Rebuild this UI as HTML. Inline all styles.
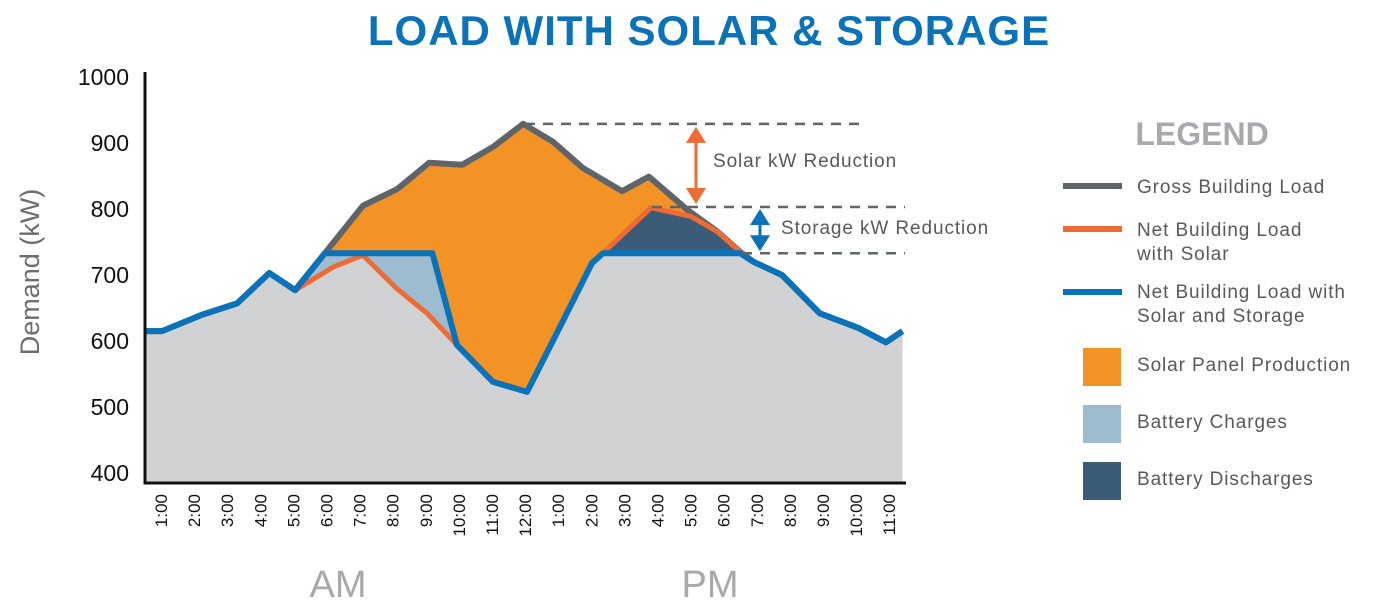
<!DOCTYPE html>
<html><head><meta charset="utf-8">
<style>
body{margin:0;background:#fff;width:1390px;height:600px;overflow:hidden;font-family:"Liberation Sans",sans-serif;}
svg text{font-family:"Liberation Sans",sans-serif;}
</style></head>
<body>
<svg id="chart" width="1390" height="600" viewBox="0 0 1390 600">
<text x="709" y="45" text-anchor="middle" font-size="42" font-weight="bold" fill="#0a72b9" letter-spacing="1">LOAD WITH SOLAR &amp; STORAGE</text>
<g id="plot"></g>
<g id="overlay"></g>
<text transform="translate(39,272) rotate(-90)" text-anchor="middle" font-size="27" fill="#6d6e71">Demand (kW)</text>
<text x="338" y="597" text-anchor="middle" font-size="38" fill="#a7a9ac">AM</text>
<text x="710" y="597" text-anchor="middle" font-size="38" fill="#a7a9ac">PM</text>
<g letter-spacing="0.9">
<text x="1202" y="145" text-anchor="middle" font-size="32" font-weight="bold" fill="#a7a9ac" letter-spacing="0">LEGEND</text>
<rect x="1063" y="183" width="59" height="6" fill="#5f6468"/>
<text x="1137" y="193" font-size="19" fill="#58595b">Gross Building Load</text>
<rect x="1063" y="226" width="59" height="6" fill="#ef6b35"/>
<text x="1137" y="236" font-size="19" fill="#58595b">Net Building Load</text>
<text x="1137" y="260" font-size="19" fill="#58595b">with Solar</text>
<rect x="1063" y="289" width="59" height="6" fill="#0a72b9"/>
<text x="1137" y="298" font-size="19" fill="#58595b">Net Building Load with</text>
<text x="1137" y="322" font-size="19" fill="#58595b">Solar and Storage</text>
<rect x="1083" y="348" width="38" height="38" fill="#f39325"/>
<text x="1137" y="371" font-size="19" fill="#58595b">Solar Panel Production</text>
<rect x="1083" y="405" width="38" height="38" fill="#9ebccf"/>
<text x="1137" y="428" font-size="19" fill="#58595b">Battery Charges</text>
<rect x="1083" y="462" width="38" height="38" fill="#3a5c78"/>
<text x="1137" y="485" font-size="19" fill="#58595b">Battery Discharges</text>
</g>
</svg>
<script>
const yTicks=[400,500,600,700,800,900,1000];
const xTickLabels=["1:00","2:00","3:00","4:00","5:00","6:00","7:00","8:00","9:00","10:00","11:00","12:00","1:00","2:00","3:00","4:00","5:00","6:00","7:00","8:00","9:00","10:00","11:00"];
const grossHours=[0.5,1.03,2.25,3.3,4.27,5.05,5.95,7.1,8.13,9.1,10.1,11.03,11.94,12.84,13.75,14.93,15.74,16.92,17.83,18.5,18.9,19.76,20.9,22.06,22.9,23.4];
const grossValues=[615,615,640,657,703,677,733,805,830,870,867,894,929,902,862,827,849,798,765,735,720,700,642,620,598,615];
const solarHours=[0.5,1.03,2.25,3.3,4.27,5.05,6.2,7.1,8.13,9.04,9.94,11.03,12.06,13.05,14.02,14.35,15.8,17.0,17.83,18.5,18.9,19.76,20.9,22.06,22.9,23.4];
const solarValues=[615,615,640,657,703,677,712,730,679,642,594,538,523,621,718,733,802,789,765,735,720,700,642,620,598,615];
const storageHours=[0.5,1.03,2.25,3.3,4.27,5.05,5.95,9.2,9.94,11.03,12.06,13.05,14.02,14.35,18.5,18.9,19.76,20.9,22.06,22.9,23.4];
const storageValues=[615,615,640,657,703,677,733,733,594,538,523,621,718,733,733,720,700,642,620,598,615];
const solarReductionTop=929, solarReductionBottom=803, storageReductionBottom=733;

const NS="http://www.w3.org/2000/svg";
const X=h=>161+(h-1)*33.1;
const Y=v=>77+(1000-v)*0.66;
const BASE=482;
const plot=document.getElementById('plot');
const ov=document.getElementById('overlay');
function mk(tag,attrs,parent){const e=document.createElementNS(NS,tag);for(const k in attrs)e.setAttribute(k,attrs[k]);parent.appendChild(e);return e;}
function interp(hs,vs,h){if(h<=hs[0])return vs[0];for(let i=1;i<hs.length;i++){if(h<=hs[i]){const t=(h-hs[i-1])/(hs[i]-hs[i-1]);return vs[i-1]+t*(vs[i]-vs[i-1]);}}return vs[vs.length-1];}
const allH=[...new Set([...grossHours,...solarHours,...storageHours])].sort((a,b)=>a-b);
function areaPath(fn){let d=`M${X(allH[0])},${BASE}`;allH.forEach(h=>{d+=`L${X(h)},${Y(fn(h))}`});d+=`L${X(allH[allH.length-1])},${BASE}Z`;return d;}
function linePath(hs,vs){return hs.map((h,i)=>(i?'L':'M')+X(h)+','+Y(vs[i])).join('');}
const g=h=>interp(grossHours,grossValues,h),s=h=>interp(solarHours,solarValues,h),st=h=>interp(storageHours,storageValues,h);

let e;
e=mk('path',{d:areaPath(g),fill:'#f39325'},plot);


e=mk('path',{d:areaPath(s),fill:'#3a5c78'},plot);


e=mk('path',{d:areaPath(st),fill:'#9ebccf'},plot);


e=mk('path',{d:areaPath(h=>Math.min(s(h),st(h))),fill:'#d1d2d4'},plot);


e=mk('path',{d:linePath(grossHours,grossValues),fill:'none',stroke:'#5f6468','stroke-width':6,'stroke-linejoin':'round'},plot);


e=mk('path',{d:linePath(solarHours,solarValues),fill:'none',stroke:'#ef6b35','stroke-width':5,'stroke-linejoin':'round'},plot);


e=mk('path',{d:linePath(storageHours,storageValues),fill:'none',stroke:'#0a72b9','stroke-width':6,'stroke-linejoin':'round'},plot);


e=mk('path',{d:`M145,72V483H906`,fill:'none',stroke:'#111','stroke-width':3},plot);


yTicks.forEach(v=>{const t=mk('text',{x:129,y:Y(v)+8,'text-anchor':'end','font-size':23,fill:'#111'},plot);t.textContent=v;

});
xTickLabels.forEach((l,i)=>{const t=mk('text',{transform:`translate(${X(i+1)+6},494) rotate(-90)`,'text-anchor':'end','font-size':17,fill:'#111'},plot);t.textContent=l;

});
function dash(y,x1,x2,name){const d=mk('line',{x1:x1,x2:x2,y1:y,y2:y,stroke:'#5f6468','stroke-width':2.5,'stroke-dasharray':'10,8'},ov);

}
dash(Y(solarReductionTop),525,862,'solar-peak-dashline');
dash(Y(solarReductionBottom),652,905,'solar-net-peak-dashline');
dash(Y(storageReductionBottom),742,905,'storage-peak-dashline');
function arrow(x,y1,y2,col,name){const a=mk('g',{},ov);


mk('line',{x1:x,x2:x,y1:y1+10,y2:y2-10,stroke:col,'stroke-width':3},a);
mk('path',{d:`M${x},${y1}L${x-10},${y1+16}H${x+10}Z`,fill:col},a);
mk('path',{d:`M${x},${y2}L${x-10},${y2-16}H${x+10}Z`,fill:col},a);}
arrow(696,Y(solarReductionTop)+3,Y(solarReductionBottom)-3,'#ef6b35','solar-reduction-arrow');
arrow(760,Y(solarReductionBottom)+2,Y(storageReductionBottom)-2,'#0a72b9','storage-reduction-arrow');
e=mk('text',{x:713,y:167,'font-size':19,fill:'#58595b','letter-spacing':0.9},ov);e.textContent='Solar kW Reduction';


e=mk('text',{x:781,y:234,'font-size':19,fill:'#58595b','letter-spacing':0.9},ov);e.textContent='Storage kW Reduction';


</script>
</body></html>
